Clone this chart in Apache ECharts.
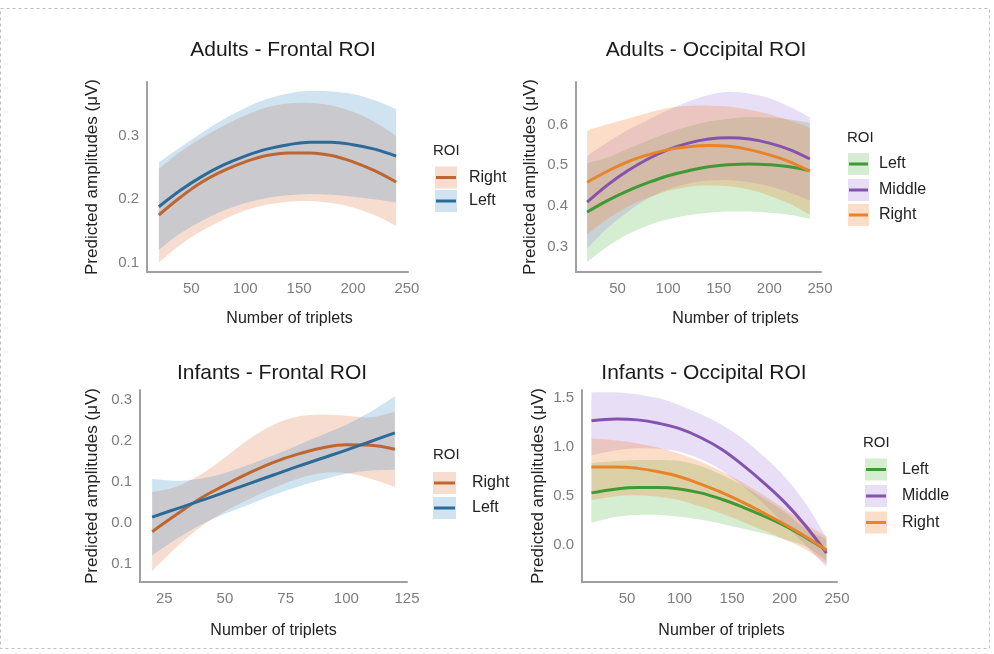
<!DOCTYPE html>
<html>
<head>
<meta charset="utf-8">
<script src="https://cdn.jsdelivr.net/npm/echarts@6/dist/echarts.min.js"></script>
<style>
html,body{margin:0;padding:0;background:#fff;}
#chart{width:994px;height:654px;}
</style>
</head>
<body>
<div id="chart"></div>
<script>
// ---------------- DATA ----------------
// Adults - Frontal ROI
const afX = [20, 40, 60, 80, 100, 120, 140, 160, 180, 200, 220, 240];
const afRightFit   = [0.175, 0.203, 0.227, 0.245, 0.259, 0.269, 0.273, 0.273, 0.269, 0.259, 0.245, 0.227];
const afRightLower = [0.100, 0.128, 0.150, 0.168, 0.182, 0.191, 0.196, 0.197, 0.194, 0.187, 0.175, 0.158];
const afRightUpper = [0.248, 0.275, 0.297, 0.316, 0.332, 0.345, 0.351, 0.352, 0.348, 0.338, 0.322, 0.300];
const afLeftFit    = [0.188, 0.214, 0.236, 0.254, 0.268, 0.279, 0.286, 0.290, 0.290, 0.286, 0.279, 0.268];
const afLeftLower  = [0.120, 0.146, 0.166, 0.182, 0.194, 0.202, 0.206, 0.208, 0.207, 0.204, 0.200, 0.195];
const afLeftUpper  = [0.258, 0.282, 0.305, 0.326, 0.344, 0.358, 0.367, 0.371, 0.370, 0.366, 0.356, 0.342];

// Adults - Occipital ROI
const aoX = [20, 40, 60, 80, 100, 120, 140, 160, 180, 200, 220, 240];
const aoLeftFit      = [0.385, 0.413, 0.437, 0.457, 0.474, 0.486, 0.496, 0.501, 0.503, 0.501, 0.496, 0.486];
const aoLeftLower    = [0.262, 0.300, 0.330, 0.352, 0.367, 0.377, 0.383, 0.386, 0.386, 0.383, 0.378, 0.368];
const aoLeftUpper    = [0.505, 0.518, 0.540, 0.560, 0.580, 0.595, 0.607, 0.614, 0.618, 0.617, 0.612, 0.604];
const aoMiddleFit    = [0.409, 0.451, 0.486, 0.515, 0.538, 0.554, 0.564, 0.567, 0.564, 0.554, 0.538, 0.515];
const aoMiddleLower  = [0.295, 0.345, 0.385, 0.418, 0.441, 0.455, 0.462, 0.463, 0.458, 0.448, 0.433, 0.413];
const aoMiddleUpper  = [0.522, 0.556, 0.586, 0.611, 0.635, 0.656, 0.672, 0.680, 0.676, 0.664, 0.643, 0.617];
const aoRightFit     = [0.458, 0.485, 0.508, 0.525, 0.538, 0.545, 0.548, 0.546, 0.538, 0.525, 0.508, 0.485];
const aoRightLower   = [0.330, 0.368, 0.398, 0.420, 0.437, 0.447, 0.450, 0.448, 0.440, 0.425, 0.405, 0.378];
const aoRightUpper   = [0.585, 0.600, 0.614, 0.628, 0.640, 0.645, 0.646, 0.644, 0.636, 0.625, 0.610, 0.592];

// Infants - Frontal ROI
const ifX = [20, 30, 40, 50, 60, 70, 80, 90, 100, 110, 120];
const ifRightFit   = [-0.022, 0.020, 0.060, 0.092, 0.122, 0.148, 0.168, 0.183, 0.191, 0.190, 0.180];
const ifRightLower = [-0.118, -0.060, -0.010, 0.028, 0.058, 0.085, 0.108, 0.122, 0.122, 0.108, 0.088];
const ifRightUpper = [0.075, 0.088, 0.118, 0.160, 0.205, 0.240, 0.260, 0.265, 0.262, 0.258, 0.272];
const ifLeftFit    = [0.014, 0.034, 0.054, 0.075, 0.096, 0.117, 0.138, 0.158, 0.178, 0.199, 0.220];
const ifLeftLower  = [-0.080, -0.040, -0.005, 0.022, 0.045, 0.068, 0.088, 0.105, 0.120, 0.128, 0.130];
const ifLeftUpper  = [0.108, 0.103, 0.108, 0.122, 0.142, 0.165, 0.190, 0.215, 0.240, 0.272, 0.310];

// Infants - Occipital ROI
const ioX = [16, 40, 60, 80, 100, 120, 140, 160, 180, 200, 220, 240];
const ioLeftFit      = [0.535, 0.575, 0.590, 0.590, 0.575, 0.535, 0.470, 0.390, 0.300, 0.200, 0.080, -0.050];
const ioLeftLower    = [0.230, 0.290, 0.310, 0.310, 0.290, 0.260, 0.220, 0.170, 0.120, 0.060, -0.010, -0.160];
const ioLeftUpper    = [0.840, 0.860, 0.870, 0.870, 0.860, 0.810, 0.720, 0.610, 0.480, 0.340, 0.170, 0.060];
const ioMiddleFit    = [1.270, 1.290, 1.280, 1.245, 1.190, 1.100, 0.980, 0.820, 0.640, 0.440, 0.200, -0.080];
const ioMiddleLower  = [0.920, 0.970, 0.990, 0.985, 0.955, 0.880, 0.765, 0.605, 0.425, 0.215, 0.000, -0.220];
const ioMiddleUpper  = [1.560, 1.560, 1.540, 1.500, 1.430, 1.340, 1.230, 1.090, 0.910, 0.700, 0.430, 0.080];
const ioRightFit     = [0.800, 0.800, 0.785, 0.750, 0.700, 0.625, 0.540, 0.440, 0.330, 0.215, 0.090, -0.050];
const ioRightLower   = [0.460, 0.500, 0.510, 0.495, 0.460, 0.395, 0.325, 0.240, 0.150, 0.060, -0.040, -0.190];
const ioRightUpper   = [1.090, 1.070, 1.040, 0.995, 0.935, 0.855, 0.755, 0.640, 0.510, 0.370, 0.220, 0.090];

// Tick labels
const xTicksAdults = [50, 100, 150, 200, 250];
const xTicksInfFrontal = [25, 50, 75, 100, 125];
const xTicksInfOccipital = [50, 100, 150, 200, 250];
const yTicksAF = [0.1, 0.2, 0.3];
const yTicksAO = [0.3, 0.4, 0.5, 0.6];
const yTicksIF = [-0.1, 0.0, 0.1, 0.2, 0.3];
const yTicksIO = [0.0, 0.5, 1.0, 1.5];

const panelTitles = ['Adults - Frontal ROI', 'Adults - Occipital ROI', 'Infants - Frontal ROI', 'Infants - Occipital ROI'];
const xAxisTitle = 'Number of triplets';
const yAxisTitle = 'Predicted amplitudes (\u03bcV)';
const legendTitle = 'ROI';

// ---------------- STYLE ----------------
const FONT = '"Liberation Sans", Arial, sans-serif';
const C = {
  fRight: '#bf6530', fLeft: '#2c6b98',
  oLeft: '#3f9a35', oMiddle: '#8552ad', oRight: '#e8832a'
};
const F = {
  fRight: 'rgba(223,119,67,0.25)', fLeft: 'rgba(63,143,199,0.25)',
  oLeft: 'rgba(87,187,75,0.25)', oMiddle: 'rgba(163,123,215,0.25)', oRight: 'rgba(243,123,35,0.25)'
};

const grids = [
  {left: 147, top: 82, width: 261, height: 190},
  {left: 576, top: 82, width: 245, height: 190},
  {left: 140, top: 390, width: 267, height: 192},
  {left: 582, top: 390, width: 255, height: 192}
];
const xRanges = [[9, 251], [9, 251], [15, 125], [7, 250]];
const yRanges = [[0.085, 0.385], [0.2376, 0.704], [-0.145, 0.325], [-0.375, 1.585]];
const xTickSets = [xTicksAdults, xTicksAdults, xTicksInfFrontal, xTicksInfOccipital];
const yTickSets = [yTicksAF, yTicksAO, yTicksIF, yTicksIO];
const xNameGaps = [39, 39, 41, 41];
const xNameShift = [24, 74, 0, 24];
const yNameGaps = [46, 37, 39, 35];

const axisLineStyle = {color: '#a0a0a0', width: 2};
const tickLabelStyle = {color: '#7d7d7d', fontSize: 15, fontFamily: FONT};

const xAxes = grids.map((g, i) => ({
  type: 'value', gridIndex: i, min: xRanges[i][0], max: xRanges[i][1],
  name: xAxisTitle, nameLocation: 'middle', nameGap: xNameGaps[i],
  nameTextStyle: {color: '#222', fontSize: 16, fontFamily: FONT, padding: [0, 0, 0, xNameShift[i]]},
  axisLine: {show: true, onZero: false, lineStyle: axisLineStyle},
  axisTick: {show: false, customValues: xTickSets[i]},
  axisLabel: Object.assign({customValues: xTickSets[i], margin: 9, formatter: v => String(Math.round(v))}, tickLabelStyle),
  splitLine: {show: false}
}));
const yAxes = grids.map((g, i) => ({
  type: 'value', gridIndex: i, min: yRanges[i][0], max: yRanges[i][1],
  name: yAxisTitle, nameLocation: 'middle', nameGap: yNameGaps[i],
  nameTextStyle: {color: '#222', fontSize: 17, fontFamily: FONT},
  axisLine: {show: true, onZero: false, lineStyle: axisLineStyle},
  axisTick: {show: false, customValues: yTickSets[i]},
  axisLabel: Object.assign({customValues: yTickSets[i], margin: 8,
    formatter: v => (i === 2 ? Math.abs(v) : v).toFixed(1)}, tickLabelStyle),
  splitLine: {show: false}
}));

// Catmull-Rom -> cubic bezier path segments through screen points
function curveSegs(p) {
  let d = '';
  for (let i = 0; i < p.length - 1; i++) {
    const p0 = p[i - 1] || p[i], p1 = p[i], p2 = p[i + 1], p3 = p[i + 2] || p[i + 1];
    const c1x = p1[0] + (p2[0] - p0[0]) / 6, c1y = p1[1] + (p2[1] - p0[1]) / 6;
    const c2x = p2[0] - (p3[0] - p1[0]) / 6, c2y = p2[1] - (p3[1] - p1[1]) / 6;
    d += ' C' + c1x + ',' + c1y + ' ' + c2x + ',' + c2y + ' ' + p2[0] + ',' + p2[1];
  }
  return d;
}
function band(gi, xs, lo, hi, fill) {
  return {
    type: 'custom', xAxisIndex: gi, yAxisIndex: gi, silent: true, z: 1, clip: true,
    encode: {x: 0, y: [1, 2]},
    data: xs.map((x, k) => [x, lo[k], hi[k]]),
    renderItem: function (params, api) {
      if (params.dataIndex !== 0) return null;
      const up = xs.map((x, k) => api.coord([x, hi[k]]));
      const dn = xs.map((x, k) => api.coord([x, lo[k]])).reverse();
      const d = 'M' + up[0][0] + ',' + up[0][1] + curveSegs(up) +
        ' L' + dn[0][0] + ',' + dn[0][1] + curveSegs(dn) + ' Z';
      return {type: 'path', shape: {pathData: d}, style: {fill: fill, stroke: null}};
    }
  };
}
function fit(gi, xs, ys, color, name) {
  return {type: 'line', name: name, xAxisIndex: gi, yAxisIndex: gi, data: xs.map((x, k) => [x, ys[k]]),
    symbol: 'none', smooth: 0.4, silent: true, z: 3, lineStyle: {color: color, width: 3}};
}

const series = [
  band(0, afX, afRightLower, afRightUpper, F.fRight),
  band(0, afX, afLeftLower, afLeftUpper, F.fLeft),
  fit(0, afX, afRightFit, C.fRight, 'Right'), fit(0, afX, afLeftFit, C.fLeft, 'Left'),

  band(1, aoX, aoLeftLower, aoLeftUpper, F.oLeft),
  band(1, aoX, aoMiddleLower, aoMiddleUpper, F.oMiddle),
  band(1, aoX, aoRightLower, aoRightUpper, F.oRight),
  fit(1, aoX, aoLeftFit, C.oLeft, 'Left'), fit(1, aoX, aoMiddleFit, C.oMiddle, 'Middle'), fit(1, aoX, aoRightFit, C.oRight, 'Right'),

  band(2, ifX, ifRightLower, ifRightUpper, F.fRight),
  band(2, ifX, ifLeftLower, ifLeftUpper, F.fLeft),
  fit(2, ifX, ifRightFit, C.fRight, 'Right'), fit(2, ifX, ifLeftFit, C.fLeft, 'Left'),

  band(3, ioX, ioLeftLower, ioLeftUpper, F.oLeft),
  band(3, ioX, ioMiddleLower, ioMiddleUpper, F.oMiddle),
  band(3, ioX, ioRightLower, ioRightUpper, F.oRight),
  fit(3, ioX, ioLeftFit, C.oLeft, 'Left'), fit(3, ioX, ioMiddleFit, C.oMiddle, 'Middle'), fit(3, ioX, ioRightFit, C.oRight, 'Right')
];

// titles
const titlePos = [[278, 35], [701, 35], [267, 358], [699, 358]];
const titles = panelTitles.map((t, i) => ({
  text: t, left: titlePos[i][0], top: titlePos[i][1], textAlign: 'center',
  textStyle: {fontSize: 21, fontWeight: 'normal', color: '#1a1a1a', fontFamily: FONT}
}));

// legends (drawn as graphic keys)
const legendSpecs = [
  {x: 433, ty: 151, kx: 435, kw: 22, lx: 469, ys: [177.5, 201], names: ['Right', 'Left'], lines: [C.fRight, C.fLeft], fills: [F.fRight, F.fLeft]},
  {x: 847, ty: 138, kx: 848, kw: 21, lx: 879, ys: [164, 190, 215], names: ['Left', 'Middle', 'Right'], lines: [C.oLeft, C.oMiddle, C.oRight], fills: [F.oLeft, F.oMiddle, F.oRight]},
  {x: 433, ty: 455, kx: 433, kw: 23, lx: 472, ys: [483, 508], names: ['Right', 'Left'], lines: [C.fRight, C.fLeft], fills: [F.fRight, F.fLeft]},
  {x: 863, ty: 443, kx: 865, kw: 22, lx: 902, ys: [469.5, 496, 522.5], names: ['Left', 'Middle', 'Right'], lines: [C.oLeft, C.oMiddle, C.oRight], fills: [F.oLeft, F.oMiddle, F.oRight]}
];
const graphics = [{
  type: 'rect', shape: {x: 0.5, y: 8.5, width: 989, height: 640},
  style: {fill: 'none', stroke: '#bdbdbd', lineWidth: 1, lineDash: [3, 3]}, z: 0
}];
legendSpecs.forEach(L => {
  graphics.push({type: 'text', x: L.x, y: L.ty, style: {text: legendTitle, fill: '#222', fontSize: 15, fontFamily: FONT, verticalAlign: 'middle'}});
  L.names.forEach((n, k) => {
    const cy = L.ys[k];
    graphics.push({type: 'rect', shape: {x: L.kx, y: cy - 11, width: L.kw, height: 22}, style: {fill: L.fills[k]}});
    graphics.push({type: 'line', shape: {x1: L.kx + 1, y1: cy, x2: L.kx + L.kw - 1, y2: cy}, style: {stroke: L.lines[k], lineWidth: 3}});
    graphics.push({type: 'text', x: L.lx, y: cy, style: {text: n, fill: '#222', fontSize: 16, fontFamily: FONT, verticalAlign: 'middle'}});
  });
});

const chart = echarts.init(document.getElementById('chart'), null, {renderer: 'canvas'});
chart.setOption({
  animation: false,
  backgroundColor: '#ffffff',
  textStyle: {fontFamily: FONT},
  title: titles,
  grid: grids,
  xAxis: xAxes,
  yAxis: yAxes,
  series: series,
  graphic: graphics
});
</script>
</body>
</html>
